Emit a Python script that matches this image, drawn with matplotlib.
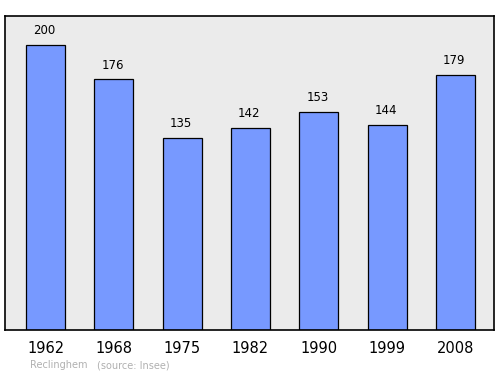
import matplotlib
matplotlib.use("Agg")
import matplotlib.pyplot as plt

years = ["1962", "1968", "1975", "1982", "1990", "1999", "2008"]
population = [200, 176, 135, 142, 153, 144, 179]

fig = plt.figure(figsize=(5, 3.74), dpi=100)
ax = fig.add_axes([5/500, 1-330/374, 489/500, 314/374])
ax.set_facecolor("#ebebeb")
x = list(range(len(years)))
ax.bar(x, population, width=0.571, color="#7799ff", edgecolor="black", linewidth=0.9, zorder=2)
ax.set_xlim(-0.593, 6.564)
ax.set_ylim(0, 220.35)
for xi, v in zip(x, population):
    ax.annotate(str(v), (xi, v), xytext=(-1, 5.5), textcoords="offset points",
                ha="center", va="bottom", fontsize=8.5, color="black")
ax.set_xticks(x)
ax.set_xticklabels(years, fontsize=10.5)
ax.tick_params(axis="x", length=0, pad=8)
ax.set_yticks([])
for s in ax.spines.values():
    s.set_linewidth(1.2)
fig.text(30/500, 1-365/374, "Reclinghem", fontsize=7, color="#b0b0b0", va="center")
fig.text(97/500, 1-365/374, "(source: Insee)", fontsize=7, color="#b0b0b0", va="center")
fig.savefig("out.png", dpi=100)
